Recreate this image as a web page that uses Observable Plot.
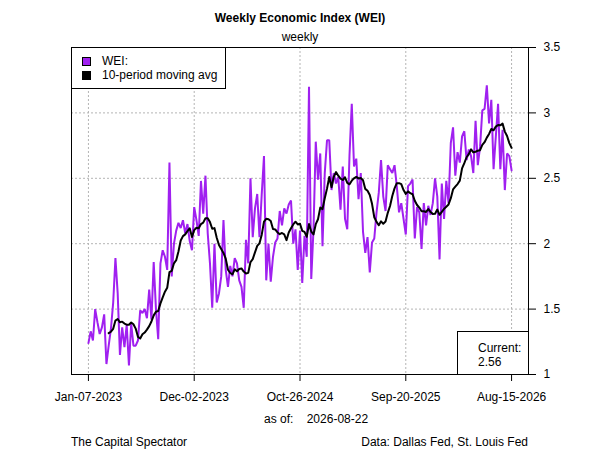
<!DOCTYPE html>
<html><head><meta charset="utf-8">
<script src="https://cdn.jsdelivr.net/npm/d3@7"></script>
<script src="https://cdn.jsdelivr.net/npm/@observablehq/plot@0.6"></script>
<style>
body{margin:0;background:#fff;font-family:"Liberation Sans",Arial,sans-serif;}
#wrap{position:relative;width:600px;height:450px;overflow:hidden;}
#wrap svg{position:absolute;left:0;top:0;}
.t{position:absolute;font-size:12px;line-height:14px;white-space:pre;color:#000;}
.box{position:absolute;border:1px solid #000;background:#fff;box-sizing:border-box;}
.sw{position:absolute;width:9px;height:9px;border:1px solid #000;box-sizing:border-box;}
</style></head><body>
<div id="wrap"></div>
<script>
// ---- data ----
const startDate = "2023-01-07";
const weiSeg1 = [1.24,1.33,1.26,1.50,1.40,1.31,1.36,1.46,1.08,1.22,
  1.35,1.55,1.89,1.62,1.15,1.36,1.21,1.38,1.07,1.39,
  1.22,1.22,1.26,1.49,1.47,1.50,1.43,1.65,1.42,1.86,
  1.50,1.27,1.85,1.95,1.90,1.80,2.62,1.75,2.00,2.10,
  2.16,2.12,2.18,2.08,2.15,2.02,1.95,2.28];
const weiSeg2 = [2.18,2.06,2.48,2.23,2.52,2.08,1.85,1.51,2.00,1.55,
  1.62,1.75,2.18,1.80,1.67,1.83,1.75,1.89,1.85,1.72,
  1.67,1.51,2.03,1.85,2.50,2.05,2.27,2.38,2.05,2.38,
  2.67,1.72,2.00,1.71,1.90,2.01,2.04,2.25,2.14,2.27,
  2.23,2.30,2.33,2.00,2.11,1.80,2.10];
const weiSeg3 = [1.70,2.06,1.90,3.20,1.73,2.11,2.78,2.49,2.69,1.98,
  2.54,2.79,2.79,2.41,2.54,2.46,2.51,2.26,2.59,2.19,
  2.11,2.68,3.07,2.59,2.65,2.34,2.54,2.09,1.93,2.05,
  1.78,2.01,2.04,2.24,2.39,2.64,2.36,2.25,2.60,2.57,
  2.54,2.60,2.44,2.24,2.31,2.19,2.07];
const weiSeg4 = [2.44,2.46,2.49,2.04,2.28,2.24,1.96,2.31,2.14,2.29,
  2.22,2.31,2.50,2.36,1.88,2.46,2.19,2.48,2.31,2.77,
  2.89,2.52,2.70,2.62,2.82,2.86,2.64,2.72,2.67,2.54,
  2.94,2.60,2.74,3.02,3.03,3.21,2.92,3.10,2.57,2.82,
  3.07,2.57,2.87,2.41,2.69,2.67,2.56];
const xTickDates = ["2023-01-07","2023-12-02","2024-10-26","2025-09-20","2026-08-15"];
const xTickLabels = ["Jan-07-2023","Dec-02-2023","Oct-26-2024","Sep-20-2025","Aug-15-2026"];
const yTicks = [1,1.5,2,2.5,3,3.5];
const yTickLabels = ["1","1.5","2","2.5","3","3.5"];
const asOfDate = "2026-08-22";
const maWindow = 10;

// ---- build ----
const wei = [...weiSeg1, ...weiSeg2, ...weiSeg3, ...weiSeg4];
const t0 = new Date(startDate + "T00:00:00Z");
const WEEK = 7 * 864e5;
const data = wei.map((v, i) => ({date: new Date(+t0 + i * WEEK), value: v}));
const tStart = data[0].date, tEnd = data[data.length - 1].date;
const pad = (tEnd - tStart) * 0.04;
const xTicks = xTickDates.map(s => new Date(s + "T00:00:00Z"));
const xLabel = new Map(xTicks.map((d, i) => [+d, xTickLabels[i]]));
const yLabel = new Map(yTicks.map((d, i) => [d, yTickLabels[i]]));
const font = '"Liberation Sans", Arial, sans-serif';
const gridStyle = {stroke: "#b4b4b4", strokeOpacity: 1, strokeDasharray: "2,2", strokeWidth: 1};

const chart = Plot.plot({
  width: 600, height: 450,
  marginTop: 47, marginBottom: 76, marginLeft: 71, marginRight: 72,
  style: {fontFamily: font, fontSize: "12px", background: "transparent", color: "#000"},
  x: {type: "utc", domain: [new Date(+tStart - pad), new Date(+tEnd + pad)]},
  y: {domain: [1, 3.5]},
  marks: [
    Plot.gridX(xTicks, gridStyle),
    Plot.gridY(yTicks, gridStyle),
    Plot.lineY(data, {x: "date", y: "value", stroke: "#A020F0", strokeWidth: 2, strokeLinejoin: "miter"}),
    Plot.lineY(data, Plot.windowY({k: maWindow, anchor: "end", strict: true},
      {x: "date", y: "value", stroke: "#000", strokeWidth: 2})),
    Plot.frame({stroke: "#000", strokeWidth: 1}),
    Plot.axisX(xTicks, {tickSize: 7, tickPadding: 11, fontSize: 12, tickFormat: d => xLabel.get(+d), label: null}),
    Plot.axisY(yTicks, {anchor: "right", tickSize: 7, tickPadding: 8, fontSize: 12, tickFormat: d => yLabel.get(d), label: null})
  ]
});
const wrap = document.getElementById("wrap");
wrap.appendChild(chart);

function addText(txt, css) {
  const d = document.createElement("div");
  d.className = "t"; d.textContent = txt;
  Object.assign(d.style, css); wrap.appendChild(d); return d;
}
function addBox(css, cls) {
  const d = document.createElement("div");
  d.className = cls; Object.assign(d.style, css); wrap.appendChild(d); return d;
}
// titles
addText("Weekly Economic Index (WEI)", {left: "0px", width: "600px", textAlign: "center", top: "11px", fontWeight: "bold"});
addText("weekly", {left: "0px", width: "600px", textAlign: "center", top: "30px"});
// legend
addBox({left: "71px", top: "47px", width: "155px", height: "42px"}, "box");
addBox({left: "82px", top: "57px", background: "#A020F0"}, "sw");
addBox({left: "82px", top: "71px", background: "#000"}, "sw");
addText("WEI:", {left: "102px", top: "54px"});
addText("10-period moving avg", {left: "102px", top: "68px"});
// current box
addBox({left: "457px", top: "331px", width: "72px", height: "44px"}, "box");
addText("Current:", {left: "478px", top: "341px"});
addText(wei[wei.length - 1].toFixed(2), {left: "478px", top: "355px"});
// footer
addText("as of:    " + asOfDate, {left: "264px", top: "412px"});
addText("The Capital Spectator", {left: "71px", top: "435px"});
addText("Data: Dallas Fed, St. Louis Fed", {right: "72px", top: "435px"});
</script>
</body></html>
